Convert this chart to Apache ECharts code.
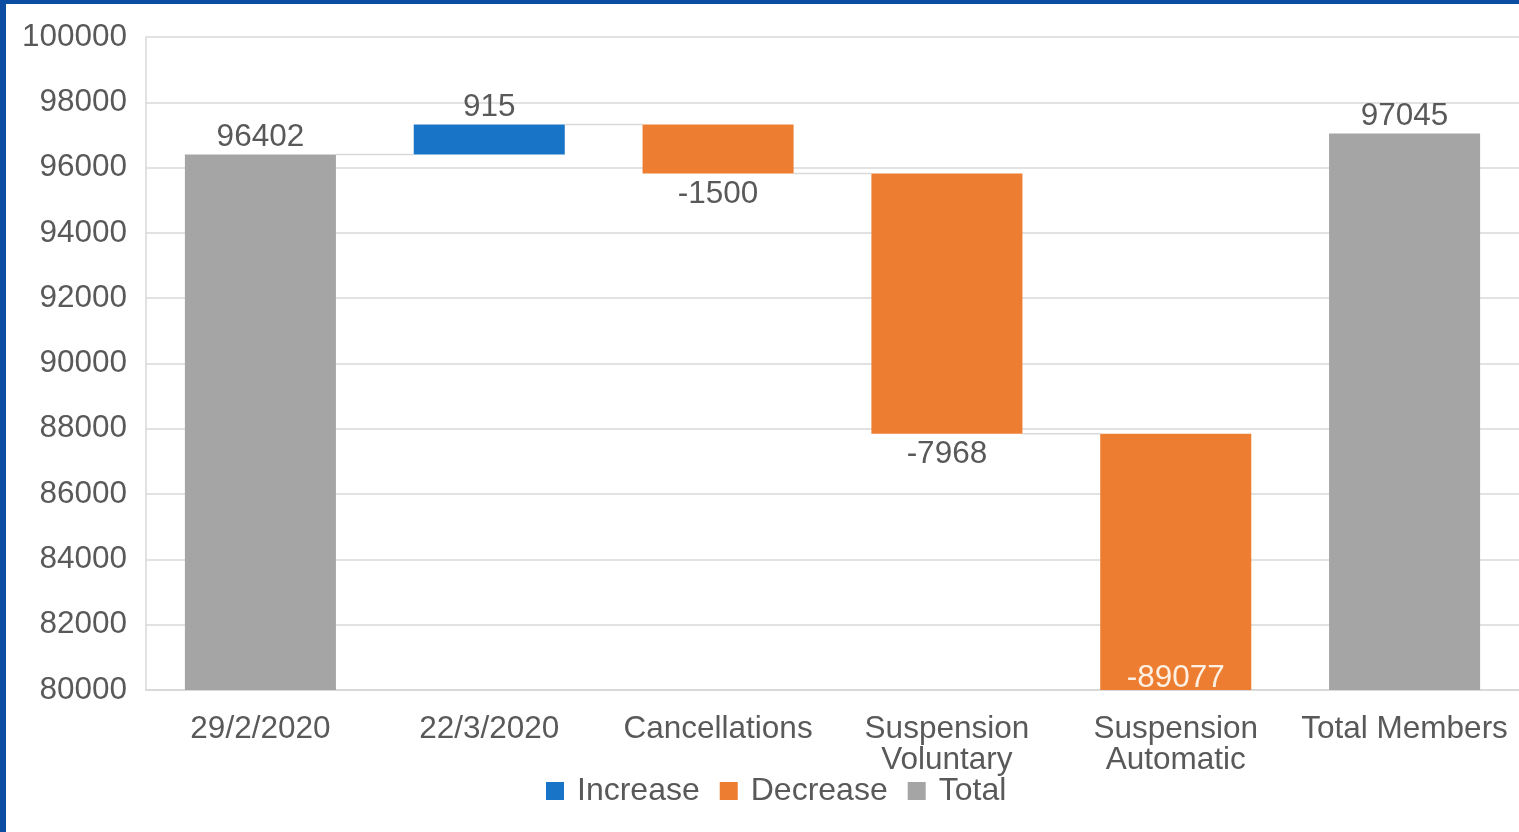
<!DOCTYPE html>
<html>
<head>
<meta charset="utf-8">
<script src="https://cdn.jsdelivr.net/npm/echarts@6/dist/echarts.min.js"></script>
<style>
  html, body { margin: 0; padding: 0; background: #fff; }
  #chart { position: absolute; left: 0; top: 0; width: 1519px; height: 832px; }
  #bTop { position: absolute; left: 0; top: 0; width: 1519px; height: 4px; background: #0b4da2; }
  #bLeft { position: absolute; left: 0; top: 0; width: 6px; height: 832px; background: #0b4da2; }
</style>
</head>
<body>
<div id="chart"></div>
<div id="bTop"></div>
<div id="bLeft"></div>
<script>
// ---- data ----
var categories = ['29/2/2020', '22/3/2020', 'Cancellations', 'Suspension\nVoluntary', 'Suspension\nAutomatic', 'Total Members'];
var startTotal = 96402;
var changes = [915, -1500, -7968, -89077];   // categories 2..5
var endTotal = 97045;
var yTicks = { min: 80000, max: 100000, interval: 2000 };

// ---- build stacked waterfall series (0 = no bar in that slot) ----
var n = categories.length;
var placeholder = [], inc = [], dec = [], tot = [], ends = [];
var running = startTotal;
tot.push(startTotal); placeholder.push(0); inc.push(0); dec.push(0); ends.push(startTotal);
changes.forEach(function (d) {
  var next = running + d;
  tot.push(0);
  if (d >= 0) { placeholder.push(running); inc.push(d); dec.push(0); }
  else { placeholder.push(next); dec.push(-d); inc.push(0); }
  running = next;
  ends.push(next);
});
tot.push(endTotal); placeholder.push(0); inc.push(0); dec.push(0); ends.push(endTotal);

var connectors = [];
for (var i = 0; i < n - 2; i++) connectors.push([i, ends[i]]);

var txt = '#595959';
var font = "'Liberation Sans', Arial, sans-serif";
var fs = 31.5;

var decData = dec.map(function (v, i) {
  if (i === 4) {
    return { value: v, label: { position: 'insideBottom', color: '#fdf0e2', distance: -4 } };
  }
  return v;
});

function hideZero(fmt) {
  return function (p) { return p.value === 0 ? '' : (fmt ? fmt(p.value) : String(p.value)); };
}

var chart = echarts.init(document.getElementById('chart'), null, { renderer: 'canvas' });
chart.setOption({
  animation: false,
  textStyle: { fontFamily: font },
  grid: { left: 146, right: 0, top: 37, bottom: 142, containLabel: false },
  legend: {
    data: ['Increase', 'Decrease', 'Total'],
    left: 541, top: 770,
    itemWidth: 18, itemHeight: 18, itemGap: 20,
    icon: 'rect',
    textStyle: { color: txt, fontSize: 32, fontFamily: font, padding: [0, 0, 0, 8] }
  },
  xAxis: {
    type: 'category',
    data: categories,
    axisLine: { show: true, lineStyle: { color: '#d9d9d9', width: 2 } },
    axisTick: { show: false },
    axisLabel: { color: txt, fontSize: fs, fontFamily: font, margin: 24, lineHeight: 31, interval: 0 },
    splitLine: { show: false }
  },
  yAxis: {
    type: 'value',
    min: yTicks.min, max: yTicks.max, interval: yTicks.interval,
    axisLine: { show: true, lineStyle: { color: '#d9d9d9', width: 1.5 } },
    axisTick: { show: false },
    axisLabel: { color: txt, fontSize: fs, fontFamily: font, margin: 19, padding: [5, 0, 0, 0], formatter: function (v) { return String(v); } },
    splitLine: { show: true, lineStyle: { color: '#d9d9d9', width: 1.5 } }
  },
  series: [
    {
      name: 'placeholder', type: 'bar', stack: 'w', stackStrategy: 'all',
      barWidth: '66%', silent: true,
      itemStyle: { color: 'transparent' },
      data: placeholder
    },
    {
      name: 'Increase', type: 'bar', stack: 'w', stackStrategy: 'all', barWidth: '66%',
      itemStyle: { color: '#1874c6' },
      label: { show: true, position: 'top', distance: 1, color: txt, fontSize: fs, fontFamily: font, formatter: hideZero() },
      data: inc
    },
    {
      name: 'Decrease', type: 'bar', stack: 'w', stackStrategy: 'all', barWidth: '66%',
      itemStyle: { color: '#ed7d31' },
      label: {
        show: true, position: 'bottom', distance: 5, color: txt, fontSize: fs, fontFamily: font,
        formatter: hideZero(function (v) { return '-' + v; })
      },
      data: decData
    },
    {
      name: 'Total', type: 'bar', stack: 'w', stackStrategy: 'all', barWidth: '66%',
      itemStyle: { color: '#a5a5a5' },
      label: { show: true, position: 'top', distance: 1, color: txt, fontSize: fs, fontFamily: font, formatter: hideZero() },
      data: tot
    },
    {
      name: 'connectors', type: 'custom', silent: true, z: 1,
      data: connectors,
      renderItem: function (params, api) {
        var idx = api.value(0), v = api.value(1);
        if (v < yTicks.min || v > yTicks.max) return null;
        var p1 = api.coord([idx, v]);
        var p2 = api.coord([idx + 1, v]);
        var half = api.size([1, 0])[0] * 0.66 / 2;
        return {
          type: 'line',
          shape: { x1: p1[0] + half, y1: p1[1], x2: p2[0] - half, y2: p2[1] },
          style: { stroke: '#d9d9d9', lineWidth: 1.5 }
        };
      }
    }
  ]
});
</script>
</body>
</html>
